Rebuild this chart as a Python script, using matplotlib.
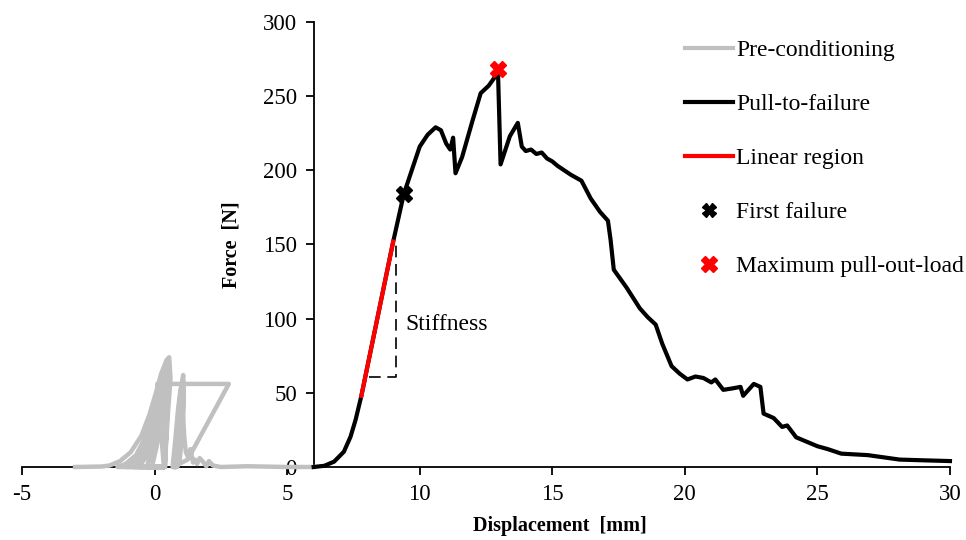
import numpy as np
import matplotlib.pyplot as plt
from matplotlib.lines import Line2D

plt.rcParams["font.family"] = ["Liberation Serif", "DejaVu Serif"]
plt.rcParams["axes.unicode_minus"] = False

# pre-conditioning cycles (gray)
pre_x = [-3.0, -2.0, -1.7, -1.3, -0.9, -0.5, -0.2, 0.05, 0.25, 0.45, 0.55, 0.6, 0.5, 0.42, 0.38,
         -1.4, -1.1, -0.7, -0.35, -0.05, 0.2, 0.4, 0.5, 0.5, 0.42, 0.36,
         -1.1, -0.8, -0.5, -0.2, 0.05, 0.25, 0.45, 0.52, 0.48, 0.4,
         -0.8, -0.55, -0.25, 0.0, 0.2, 0.38, 0.5, 0.46, 0.38,
         -0.6, -0.35, -0.1, 0.1, 0.3, 0.45, 0.5, 0.42, 0.36,
         -0.3, -0.1, 0.1, 0.25, 0.4, 0.48, 0.44, 0.37,
         -0.1, 0.08, 0.22, 0.35, 0.44, 0.41, 0.35,
         0.1, 2.8, 1.25,
         0.7, 0.8, 0.9, 0.98, 1.04, 1.08, 1.1, 1.05, 0.95, 0.85,
         0.68, 0.78, 0.88, 0.96, 1.02, 1.06, 1.08, 1.0, 0.9, 0.8,
         0.72, 0.8, 0.9, 0.97, 1.01, 0.98, 0.9, 0.82,
         0.75, 0.85, 0.95, 1.02, 1.06, 1.12, 1.18, 1.28, 1.35, 1.45, 1.52, 1.6, 1.7, 1.85,
         1.95, 2.05, 2.2, 2.5, 3.5, 5.0, 6.0]
pre_y = [0, 0.3, 1, 4, 10, 21, 35, 50, 63, 72, 74, 60, 35, 12, 0,
         0, 2, 8, 20, 36, 52, 66, 70, 45, 15, 0,
         0, 3, 10, 24, 42, 58, 70, 73, 50, 0,
         0, 5, 16, 32, 48, 62, 68, 35, 0,
         0, 6, 20, 38, 55, 66, 65, 30, 0,
         0, 10, 26, 42, 56, 62, 30, 0,
         0, 14, 30, 45, 55, 25, 0,
         56, 56, 5,
         0, 15, 35, 50, 58, 62, 50, 25, 5, 0,
         0, 18, 38, 50, 56, 58, 40, 18, 4, 0,
         0, 14, 30, 42, 48, 30, 10, 0,
         0, 20, 40, 52, 40, 20, 10, 6, 12, 3, 5, 2, 6, 3,
         0.5, 4, 1, 0, 0.5, 0, 0]

# pull-to-failure curve (black)
pull_x = [6.0, 6.4, 6.77, 7.14, 7.39, 7.58, 7.8, 8.4, 9.0, 9.4, 9.7, 10.0, 10.3, 10.6, 10.8,
          11.0, 11.15, 11.26, 11.35, 11.6, 12.0, 12.3, 12.6, 12.8, 12.95, 13.05, 13.4, 13.7,
          13.85, 14.0, 14.2, 14.4, 14.6, 14.8, 15.0, 15.2, 15.45, 15.7, 16.1, 16.45, 16.8,
          17.1, 17.2, 17.32, 17.8, 18.3, 18.6, 18.9, 19.15, 19.5, 19.8, 20.1, 20.4, 20.7,
          21.0, 21.15, 21.45, 21.8, 22.1, 22.2, 22.6, 22.85, 22.97, 23.35, 23.67, 23.86,
          24.2, 24.6, 25.0, 25.4, 25.9, 26.4, 26.9, 27.5, 28.1, 29.0, 30.0]
pull_y = [0, 0.8, 3.6, 10.3, 20.4, 31.7, 48, 100, 152, 184, 200, 216, 224, 229, 227,
          218, 214, 222, 198, 209, 234, 252, 257, 262, 268, 204, 223, 232,
          216, 213, 214, 211, 212, 208, 206, 203, 200, 197, 193, 181, 172,
          166, 153, 133, 121, 107, 101, 96, 83, 68, 63, 59, 61, 60,
          57, 59, 52, 53, 54, 48, 56, 54, 36, 33, 27, 28,
          20, 17, 14, 12, 9, 8.5, 8, 6.5, 5, 4.5, 4]

# linear region
lin_x = [7.8, 9.0]
lin_y = [48, 152]

first_fail = (9.4, 184)
max_load = (12.95, 268)

# stiffness bracket
brk_x = [8.08, 9.11, 9.11]
brk_y = [60.5, 60.5, 150]

fig = plt.figure(figsize=(9.66, 5.40), dpi=100)
ax = fig.add_axes([0.0228, 0.1352, 0.9606, 0.8241])

ax.plot(pre_x, pre_y, color="#c0c0c0", lw=3.2, zorder=3, clip_on=False)
ax.plot(pull_x, pull_y, color="black", lw=3, zorder=4, clip_on=False)
ax.plot(lin_x, lin_y, color="red", lw=3, zorder=5)
ax.plot(*first_fail, marker="X", color="black", ms=11, zorder=6, ls="none")
ax.plot(*max_load, marker="X", color="red", ms=11, zorder=6, ls="none")
ax.plot(brk_x, brk_y, color="black", lw=1.2, ls=(0, (7, 4)), zorder=4)
ax.text(9.45, 96, "Stiffness", fontsize=17, va="center", ha="left")

ax.set_xlim(-5, 30)
ax.set_ylim(0, 300)
ax.set_xticks(np.arange(-5, 31, 5))
ax.set_yticks(np.arange(0, 301, 50))
ax.spines["top"].set_visible(False)
ax.spines["right"].set_visible(False)
ax.spines["left"].set_position(("data", 6))
ax.spines["bottom"].set_position(("data", 0))
for s in ["left", "bottom"]:
    ax.spines[s].set_linewidth(1.3)
ax.tick_params(direction="out", length=6, width=1.3, labelsize=16.5, pad=6)

ax.set_xlabel("Displacement  [mm]", fontsize=14.5, fontweight="bold")
ax.xaxis.set_label_coords(0.58, -0.11)
ax.set_ylabel("Force  [N]", fontsize=14.5, fontweight="bold")
ax.yaxis.set_label_coords(0.236, 0.5)

handles = [
    Line2D([], [], color="#c0c0c0", lw=3),
    Line2D([], [], color="black", lw=3),
    Line2D([], [], color="red", lw=3),
    Line2D([], [], color="black", marker="X", ms=10, ls="none"),
    Line2D([], [], color="red", marker="X", ms=11, ls="none"),
]
labels = ["Pre-conditioning", "Pull-to-failure", "Linear region",
          "First failure", "Maximum pull-out-load"]
fig.legend(handles, labels, loc="upper left", bbox_to_anchor=(0.709, 0.926),
           frameon=False, fontsize=17, handlelength=2.03, handletextpad=0.15,
           labelspacing=1.37, borderpad=0, borderaxespad=0)

fig.savefig("out.png", dpi=100)
